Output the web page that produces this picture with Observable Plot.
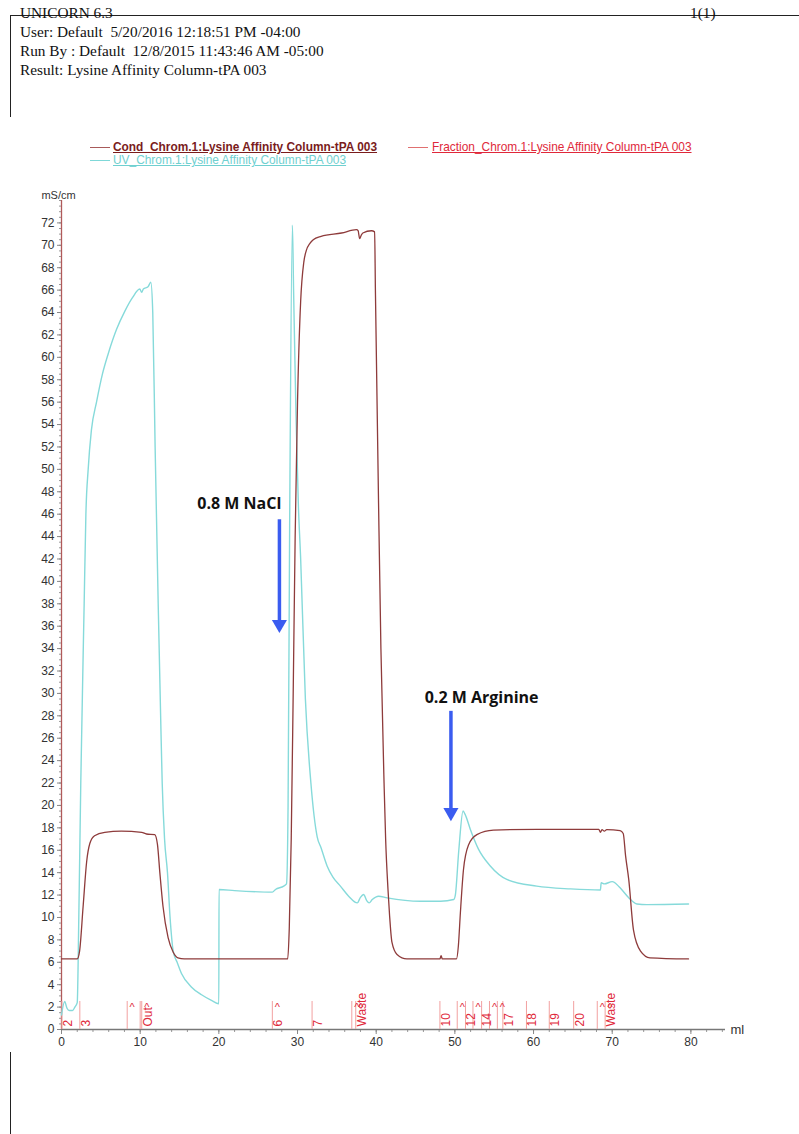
<!DOCTYPE html>
<html>
<head>
<meta charset="utf-8">
<script src="https://cdn.jsdelivr.net/npm/d3@7"></script>
<script src="https://cdn.jsdelivr.net/npm/@observablehq/plot@0.6"></script>
<style>
  html, body { margin: 0; padding: 0; background: #fff; }
  body { width: 799px; height: 1134px; position: relative; overflow: hidden; }
  .hdr { position: absolute; font-family: "Liberation Serif", "Times New Roman", serif; font-size: 15.3px; line-height: 15px; color: #111; white-space: nowrap; }
  .leg { position: absolute; font-family: "Liberation Sans", Arial, sans-serif; font-size: 11.9px; line-height: 12px; white-space: nowrap; text-decoration: underline; }
  .sw { position: absolute; height: 0; width: 20px; border-top: 1.3px solid; }
  .hline { position: absolute; border-top: 1.5px solid #222; }
  .vline { position: absolute; border-left: 1.5px solid #222; }
  #chart { position: absolute; left: 0; top: 170px; }
</style>
</head>
<body>
<div class="hline" style="left:10px; top:15px; width:789px;"></div>
<div class="vline" style="left:10px; top:15px; height:102px;"></div>
<div class="vline" style="left:10px; top:1052px; height:82px;"></div>
<div class="hdr" style="left:20px; top:5px;">UNICORN 6.3</div>
<div class="hdr" style="left:690px; top:5px;">1(1)</div>
<div class="hdr" style="left:20px; top:24px;">User: Default&nbsp; 5/20/2016 12:18:51 PM -04:00</div>
<div class="hdr" style="left:20px; top:43px;">Run By : Default&nbsp; 12/8/2015 11:43:46 AM -05:00</div>
<div class="hdr" style="left:20px; top:62px;">Result: Lysine Affinity Column-tPA 003</div>

<div class="sw" style="left:90px; top:147px; border-color:#a85a5a;"></div>
<div class="leg" style="left:113px; top:141px; color:#7a1c1c; font-weight:bold;">Cond_Chrom.1:Lysine Affinity Column-tPA 003</div>
<div class="sw" style="left:408px; top:147px; border-color:#e07070;"></div>
<div class="leg" style="left:432px; top:141px; color:#e0283a;">Fraction_Chrom.1:Lysine Affinity Column-tPA 003</div>
<div class="sw" style="left:90px; top:160px; border-color:#7fd8d8;"></div>
<div class="leg" style="left:113px; top:154px; color:#6fd0d0;">UV_Chrom.1:Lysine Affinity Column-tPA 003</div>

<div id="chart"></div>
<script>
// ---- Data (ml, mS/cm) ----
const condML  = [0, 2.0, 2.3, 2.75, 3.2, 3.6, 4.2, 5.5, 7.6, 10.2, 10.8, 11.85, 12.2, 12.5, 12.9, 13.55, 14.2, 14.8, 15.6,
                 28.75, 28.95, 29.2, 29.45, 29.7, 30.0, 30.4, 30.8, 31.1, 31.6, 32.0, 33.0, 35.6, 37.5, 37.7, 37.9, 38.1, 38.3, 39.4, 39.8,
                 39.9, 40.3, 40.6, 41.0, 41.2, 41.5, 41.7, 42.0, 42.65, 43.9, 48.1, 48.25, 48.4, 50.2,
                 50.45, 50.7, 51.1, 51.75, 52.8, 54.9, 60.4, 68.3, 68.5, 68.7, 69.0, 69.3, 71.0, 71.4, 71.7, 72.1, 72.7, 73.6, 74.8, 79.7];
const condVal = [6.3, 6.3, 7.0, 11.0, 15.0, 16.6, 17.3, 17.6, 17.7, 17.6, 17.45, 17.4, 16.5, 14.0, 11.0, 8.2, 6.9, 6.4, 6.3,
                 6.3, 9.0, 17.0, 30.0, 44.0, 56.0, 65.0, 68.5, 69.5, 70.2, 70.5, 70.8, 71.1, 71.4, 71.3, 70.6, 70.9, 71.1, 71.3, 71.2,
                 66.0, 47.0, 34.0, 22.0, 17.0, 12.5, 10.2, 7.8, 6.7, 6.3, 6.3, 6.6, 6.3, 6.3,
                 7.5, 10.4, 14.3, 16.5, 17.4, 17.8, 17.86, 17.86, 17.6, 17.85, 17.7, 17.85, 17.75, 17.5, 15.5, 13.4, 8.9, 7.0, 6.4, 6.3];

const uvML  = [0, 0.4, 0.7, 1.0, 1.4, 1.7, 2.0, 2.2, 2.45, 2.88, 3.1, 3.39, 3.8, 4.45, 5.2, 5.93, 7.0, 8.04, 9.0, 9.95, 10.2, 10.4, 11.0, 11.35,
               11.6, 11.9, 12.29, 12.6, 12.8, 13.1, 13.47, 13.8, 14.2, 14.7, 15.25, 16.5, 17.8, 19.06, 20.0, 20.02, 22.0, 26.8, 27.2, 28.25,
               28.6, 28.8, 29.0, 29.35, 29.5, 29.8, 30.1, 30.4, 31.0, 31.7, 32.5, 33.0, 33.76, 34.5, 35.45, 36.5, 37.6, 38.0, 38.4, 38.8, 39.1,
               39.5, 40.3, 41.4, 45.6, 48.2, 49.85, 50.06, 50.5, 51.04, 51.3, 51.97, 53.0, 54.5, 56.6, 60.4, 64.7, 68.5, 68.6, 69.0, 70.0,
               71.0, 72.1, 73.15, 74.4, 79.7];
const uvVal = [1.3, 2.5, 1.9, 1.7, 1.7, 2.0, 2.4, 10.0, 22.0, 38.0, 46.0, 50.0, 53.5, 56.0, 58.5, 60.3, 62.5, 64.1, 65.3, 66.1, 65.8, 66.1, 66.3, 66.7,
               64.0, 52.0, 38.0, 28.0, 22.0, 17.0, 14.0, 10.0, 7.0, 6.0, 5.0, 3.8, 3.1, 2.6, 2.3, 12.5, 12.4, 12.26, 12.5, 12.8,
               13.0, 20.0, 45.0, 71.8, 66.0, 55.0, 47.0, 42.0, 29.5, 22.0, 17.2, 16.2, 14.6, 13.6, 12.8, 11.9, 11.3, 11.8, 12.05, 11.5, 11.3,
               11.6, 11.9, 11.75, 11.45, 11.45, 11.6, 12.0, 16.0, 19.5, 19.2, 17.86, 16.1, 14.6, 13.4, 12.8, 12.55, 12.45, 13.1, 13.0, 13.2,
               12.65, 11.76, 11.2, 11.15, 11.2];

// Fraction marks
const fracLineML  = [0.05, 2.33, 8.35, 10.0, 10.2, 26.8, 31.85, 36.9, 37.4, 48.1, 50.3, 51.35, 52.3, 53.4, 54.4, 55.4, 56.1, 59.1, 62.0, 65.1, 68.1, 69.1];
const fracLabelML = [0.05, 2.33, 10.2, 26.8, 31.85, 37.4, 48.1, 51.35, 53.4, 56.1, 59.1, 62.0, 65.1, 69.1];
const fracLabels  = ["2", "3", "Out", "6", "7", "Waste", "10", "12", "14", "17", "18", "19", "20", "Waste"];
const caretML     = [8.35, 10.2, 26.8, 36.9, 37.4, 50.3, 52.3, 54.4, 55.4, 68.1, 69.1];

// Annotations
const noteText = ["0.8 M NaCl", "0.2 M Arginine"];
const noteML   = [22.6, 53.4];
const noteY    = [46.9, 29.6];
const arrowML  = [27.7, 49.5];
const arrowTop = [45.5, 28.4];
const arrowTip = [35.4, 18.6];

// Axis ticks
const yTicks = d3.range(0, 73, 2);
const xTicks = d3.range(0, 81, 10);

const condColor = "#8e3b3b";
const uvColor = "#86dada";
const fracColor = "#e0283a";
const blue = "#3a5cf0";

const cond = condML.map((x, i) => ({x, y: condVal[i]}));
const uv = uvML.map((x, i) => ({x, y: uvVal[i]}));
const notes = noteText.map((t, i) => ({t, x: noteML[i], y: noteY[i]}));
const arrows = arrowML.map((x, i) => ({x, y1: arrowTop[i], y2: arrowTip[i]}));

const chart = Plot.plot({
  width: 799,
  height: 900,
  marginTop: 30,
  marginBottom: 41,
  marginLeft: 61,
  marginRight: 74,
  x: {domain: [0, 84.4], axis: null, label: null},
  y: {domain: [0, 74], axis: null, label: null},
  style: {fontFamily: "'Liberation Sans', Arial, sans-serif", fontSize: "12px", background: "transparent", overflow: "visible"},
  marks: [
    // minor/major y ticks
    Plot.axisY({ticks: d3.range(0, 74.1, 0.5), tickSize: 2, tickFormat: () => "", stroke: "#999", label: null}),
    Plot.axisY({ticks: yTicks, tickSize: 4, tickPadding: 3, stroke: "#888", fill: "#333", fontSize: 12, label: null}),
    // minor/major x ticks
    Plot.axisX({ticks: d3.range(0, 84.1, 2), tickSize: 3, tickFormat: () => "", stroke: "#999", label: null}),
    Plot.axisX({ticks: xTicks, tickSize: 5, tickPadding: 3, stroke: "#888", fill: "#333", fontSize: 12, label: null}),
    Plot.ruleY([0], {x1: 0, x2: 84.4, stroke: "#777", strokeWidth: 1.3}),
    Plot.ruleX([0], {y1: 0, y2: 74, stroke: "#b05a5a", strokeWidth: 1.3}),
    // fraction marks
    Plot.ruleX(fracLineML, {x: d => d, y1: 0, y2: 2.5, stroke: "#f2a0a0", strokeWidth: 1}),
    Plot.text(fracLabelML, {x: d => d, y: 0, text: (d, i) => fracLabels[i], rotate: -90, textAnchor: "start", lineAnchor: "middle", dx: 6, dy: -3, fill: fracColor, fontSize: 12}),
    Plot.text(caretML, {x: d => d, y: 2.0, text: () => "^", dx: 5, fill: fracColor, fontSize: 11}),
    // curves
    Plot.line(uv, {x: "x", y: "y", stroke: uvColor, strokeWidth: 1.4, curve: "monotone-x"}),
    Plot.line(cond, {x: "x", y: "y", stroke: condColor, strokeWidth: 1.3, curve: "monotone-x"}),
    // annotations
    Plot.ruleX(arrows, {x: "x", y1: "y1", y2: "y2", stroke: blue, strokeWidth: 3.5, insetBottom: 7}),
    Plot.dot(arrows, {x: "x", y: "y2", symbol: "triangle", r: 5.6, rotate: 180, fill: blue, stroke: "none", dy: -8.66}),
    Plot.text(notes, {x: "x", y: "y", text: "t", fontFamily: "'Open Sans', sans-serif", fontWeight: "bold", fontSize: 16, fill: "#111"}),
    // unit labels
    Plot.text(["mS/cm"], {x: 0, y: 74, text: d => d, dx: -3, dy: -5, fill: "#333", fontSize: 11}),
    Plot.text(["ml"], {x: 84.4, y: 0, text: d => d, dx: 5, textAnchor: "start", fill: "#333", fontSize: 13})
  ]
});
document.getElementById("chart").appendChild(chart);
</script>
</body>
</html>
